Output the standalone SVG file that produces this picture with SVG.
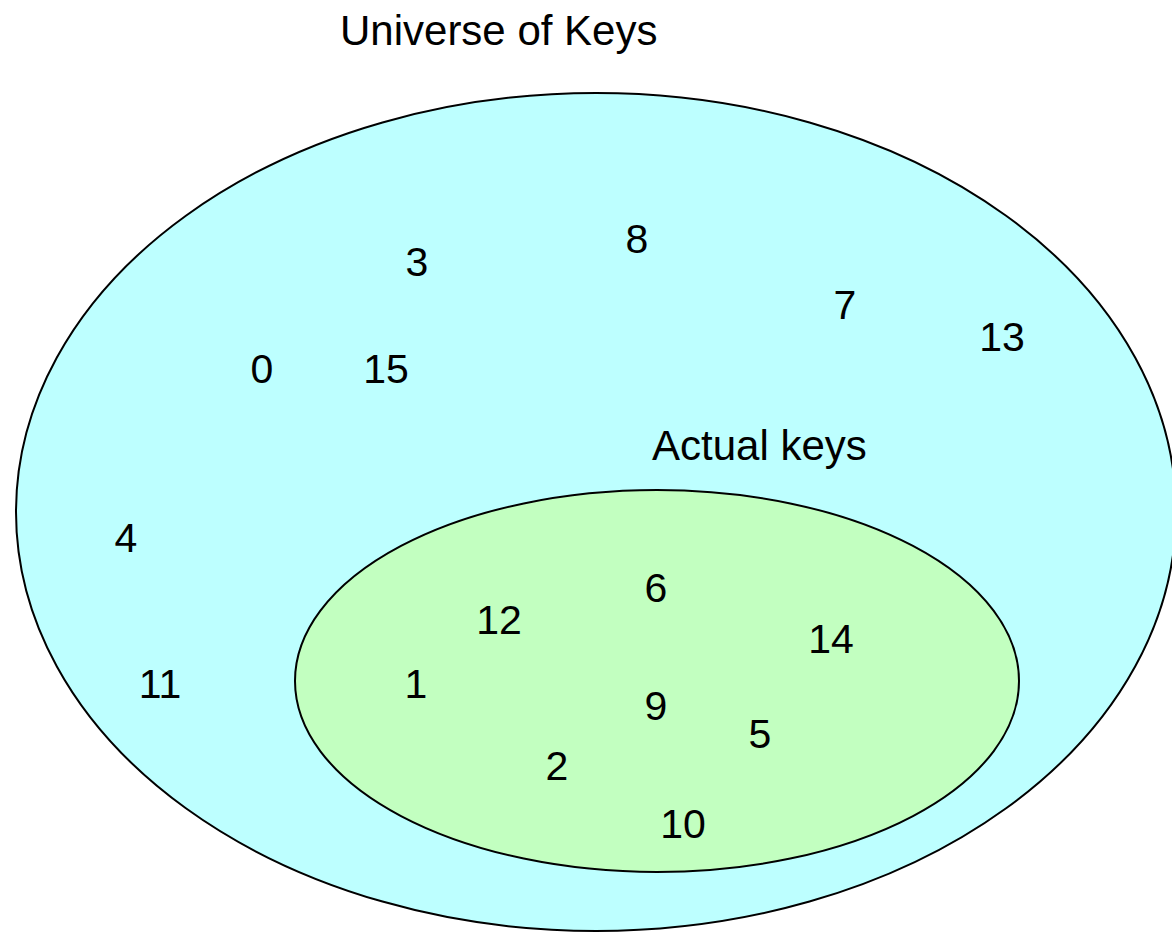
<svg xmlns="http://www.w3.org/2000/svg" width="1172" height="933" viewBox="0 0 1172 933">
<style>
.t{font-family:"Liberation Sans",Arial,sans-serif;font-size:41px;fill:#000;text-anchor:middle}
.l{font-family:"Liberation Sans",Arial,sans-serif;font-size:42px;fill:#000}
</style>
<rect width="1172" height="933" fill="#fff"/>
<g id="universe">
<ellipse cx="596" cy="512" rx="580" ry="419" fill="#BDFFFF" stroke="#000" stroke-width="2"/>
<text class="l" x="340" y="45">Universe of Keys</text>
</g>
<g id="actual">
<ellipse cx="657" cy="681" rx="362" ry="191" fill="#C2FFC0" stroke="#000" stroke-width="2"/>
<text class="l" x="652" y="460">Actual keys</text>
</g>
<g id="keys">
<text class="t" x="417" y="276">3</text>
<text class="t" x="637" y="253">8</text>
<text class="t" x="262" y="383">0</text>
<text class="t" x="386" y="383">15</text>
<text class="t" x="845" y="319">7</text>
<text class="t" x="1002" y="351">13</text>
<text class="t" x="126" y="552">4</text>
<text class="t" x="160" y="698">11</text>
<text class="t" x="656" y="602">6</text>
<text class="t" x="831" y="653">14</text>
<text class="t" x="499" y="634">12</text>
<text class="t" x="416" y="698">1</text>
<text class="t" x="656" y="720">9</text>
<text class="t" x="760" y="748">5</text>
<text class="t" x="557" y="780">2</text>
<text class="t" x="683" y="838">10</text>
</g>
</svg>
